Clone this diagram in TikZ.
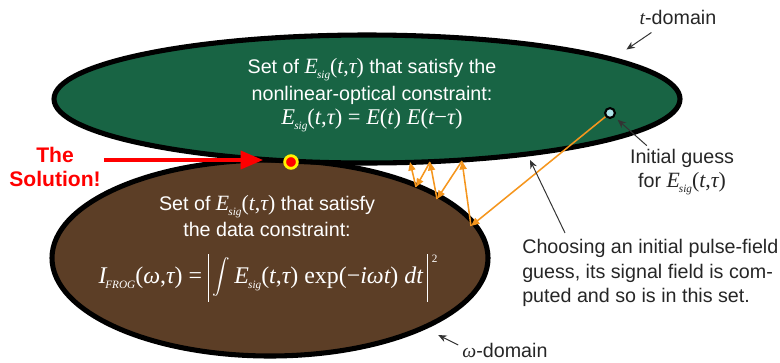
\documentclass[tikz,border=0pt]{standalone}
\usepackage{fontspec}
\setmainfont{Liberation Sans}
\newfontfamily\tms{Liberation Serif}
\usetikzlibrary{arrows.meta}
\definecolor{setgreen}{RGB}{24,100,68}
\definecolor{setbrown}{RGB}{92,62,38}
\definecolor{hopcol}{RGB}{245,150,30}
\definecolor{guesscol}{RGB}{175,228,235}
\newcommand\tv[1]{{\tms\itshape #1}}
\newcommand\sbs[1]{\raisebox{-0.5ex}{\tms\itshape\footnotesize #1}}
\newcommand\Esig{\tv{E}\kern-0.04em\sbs{sig}}
\newcommand\Targs{{\tms(}\tv{t},\tv{τ}{\tms)}}
\newcommand\absbar{\smash{\raisebox{-13pt}{\rule{0.6pt}{34pt}}}}
\begin{document}
\begin{tikzpicture}[x=0.025cm, y=-0.025cm,
  txt/.style={font=\fontsize{14}{17.5}\selectfont, align=center, inner sep=0pt},
  note/.style={txt, text=black!85},
  ptr/.style={-{Stealth[length=6pt,width=5pt]}, line width=0.7pt, black!80},
  hop/.style={-{Triangle[length=6pt,width=5pt]}, line width=1.1pt, hopcol}]
  \useasboundingbox (0,0) rectangle (780,362);
  % the two sets
  \draw[line width=3.6pt, fill=setbrown] (270,258) ellipse [x radius=218, y radius=98];
  \draw[line width=3.6pt, fill=setgreen] (367,99) ellipse [x radius=313, y radius=64];
  % text inside the t-domain set
  \node[txt, white] (gtop) at (372,70) {Set of {\tms\fontsize{15.5}{17}\selectfont\Esig\Targs} that satisfy the};
  \node[txt, white] (gmid) at (372,95) {nonlinear-optical constraint:};
  \node[txt, white] (geq) at (372,120) {\tms\fontsize{16}{17}\selectfont \Esig\Targs{} = \tv{E}(\tv{t}) \tv{E}(\tv{t}−\tv{τ})};
  % text inside the omega-domain set
  \node[txt, white] (btop) at (267,207) {Set of {\tms\fontsize{15.5}{17}\selectfont\Esig\Targs} that satisfy};
  \node[txt, white] (bmid) at (267,229) {the data constraint:};
  \node[txt, white] (beq) at (268,279) {\tms\fontsize{17}{18}\selectfont
    \tv{I}\kern-0.05em\sbs{FROG}(\tv{ω},\tv{τ}) = \absbar\,%
    \smash{\raisebox{-1pt}{\scalebox{1.25}{$\displaystyle\int$}}}\,\Esig\Targs{} exp(−\tv{iωt}) \tv{dt}\,%
    \absbar\,\smash{\raisebox{15pt}{\footnotesize 2}}};
  % the solution
  \node[circle, fill=red, draw=yellow, line width=2pt, minimum size=9pt, inner sep=0pt] (sol) at (291,162) {};
  \node[txt, red, font=\fontsize{15}{17}\selectfont\bfseries] (sollbl) at (55,167) {The\\Solution!};
  \coordinate (soltip) at (263,160);
  \draw[red, line width=2.2pt, -{Triangle[length=16pt,width=13pt]}] (sollbl.east |- soltip) ++(3,0) -- (soltip);
  % initial guess and the iterations
  \node[circle, fill=guesscol, draw=black, line width=1.5pt, minimum size=7pt, inner sep=0pt] (guess) at (610,113) {};
  \coordinate (b1) at (471,226);
  \coordinate (g1) at (462,161);
  \coordinate (b2) at (437,199);
  \coordinate (g2) at (430,162);
  \coordinate (b3) at (416,187);
  \coordinate (g3) at (410,162);
  \draw[hop] (guess) -- (b1);
  \draw[hop] (b1) -- (g1);
  \draw[hop] (g1) -- (b2);
  \draw[hop] (b2) -- (g2);
  \draw[hop] (g2) -- (b3);
  \draw[hop] (b3) -- (g3);
  % notes
  \node[note] (tdom) at (678,17) {\tv{t}-domain};
  \draw[ptr] ([shift={(12,8)}]tdom.south west) -- ++(-25,17);
  \node[note] (iglbl) at (682,172) {Initial guess\\for {\tms\fontsize{15.5}{17}\selectfont\Esig\Targs}};
  \draw[ptr, shorten >=3pt] ([shift={(17,-3)}]iglbl.north west) -- (guess);
  \node[note, align=left, anchor=west] (chlbl) at (522,273) {Choosing an initial pulse-field\\guess, its signal field is com-\\puted and so is in this set.};
  \coordinate (chtip) at (530,160);
  \draw[ptr] ([shift={(43,-6)}]chlbl.north west) -- (chtip);
  \node[note] (wdom) at (505,350) {\tv{ω}-domain};
  \draw[ptr] ([shift={(-4,-5)}]wdom.west) -- ++(-20,-10);
\end{tikzpicture}
\end{document}
